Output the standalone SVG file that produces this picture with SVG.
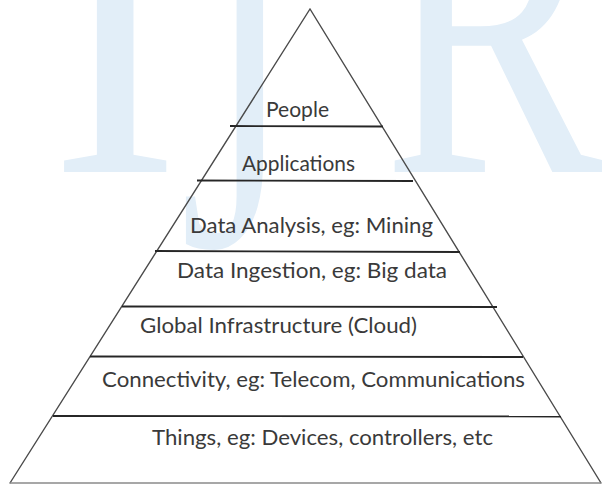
<svg xmlns="http://www.w3.org/2000/svg" width="602" height="485" viewBox="0 0 602 485">
  <style>
    .wm { font-family: "Liberation Serif", "Times New Roman", serif; fill: #e2eef8; }
    .lbl { font-family: Lato, "Open Sans", "Liberation Sans", sans-serif; font-size: 21px; fill: #3a3a3a; }
    .edge { stroke: #4a4a4a; stroke-width: 1.4; fill: none; stroke-linecap: round; }
    .div { stroke: #262626; stroke-width: 1.8; fill: none; }
    .base { stroke: #8a8a8a; stroke-width: 1.6; fill: none; }
  </style>
  <rect width="602" height="485" fill="#ffffff"/>
  <g id="watermark">
    <text class="wm" x="50" y="172" font-size="440" textLength="130" lengthAdjust="spacingAndGlyphs">I</text>
    <text class="wm" x="180" y="246" font-size="400" textLength="110" lengthAdjust="spacingAndGlyphs">J</text>
    <text class="wm" x="383" y="172" font-size="440" textLength="222" lengthAdjust="spacingAndGlyphs">R</text>
  </g>
  <g id="connectors">
    <path class="edge" d="M10,483 L310,9 L601,483"/>
    <line class="base" x1="10" y1="483" x2="601" y2="483"/>
  </g>
  <g id="layer-people">
    <text class="lbl" x="266" y="117" textLength="63" lengthAdjust="spacingAndGlyphs">People</text>
    <line class="div" x1="230" y1="126" x2="383" y2="126.5"/>
  </g>
  <g id="layer-applications">
    <text class="lbl" x="242" y="171" textLength="113" lengthAdjust="spacingAndGlyphs">Applications</text>
    <line class="div" x1="197" y1="180.5" x2="413" y2="181"/>
  </g>
  <g id="layer-analysis">
    <text class="lbl" x="190" y="233" textLength="243" lengthAdjust="spacingAndGlyphs">Data Analysis,  eg: Mining</text>
    <line class="div" x1="155" y1="251" x2="460" y2="252"/>
  </g>
  <g id="layer-ingestion">
    <text class="lbl" x="177" y="278" textLength="270" lengthAdjust="spacingAndGlyphs">Data Ingestion, eg: Big data</text>
    <line class="div" x1="122" y1="306.5" x2="497" y2="307"/>
  </g>
  <g id="layer-infrastructure">
    <text class="lbl" x="140" y="333" textLength="277" lengthAdjust="spacingAndGlyphs">Global  Infrastructure (Cloud)</text>
    <line class="div" x1="90" y1="356.5" x2="523" y2="357"/>
  </g>
  <g id="layer-connectivity">
    <text class="lbl" x="102" y="387" textLength="423" lengthAdjust="spacingAndGlyphs">Connectivity, eg: Telecom,  Communications</text>
    <line class="div" x1="53" y1="416" x2="561" y2="416.5"/>
  </g>
  <g id="layer-things">
    <text class="lbl" x="152" y="445" textLength="341" lengthAdjust="spacingAndGlyphs">Things, eg: Devices, controllers, etc</text>
  </g>
</svg>
